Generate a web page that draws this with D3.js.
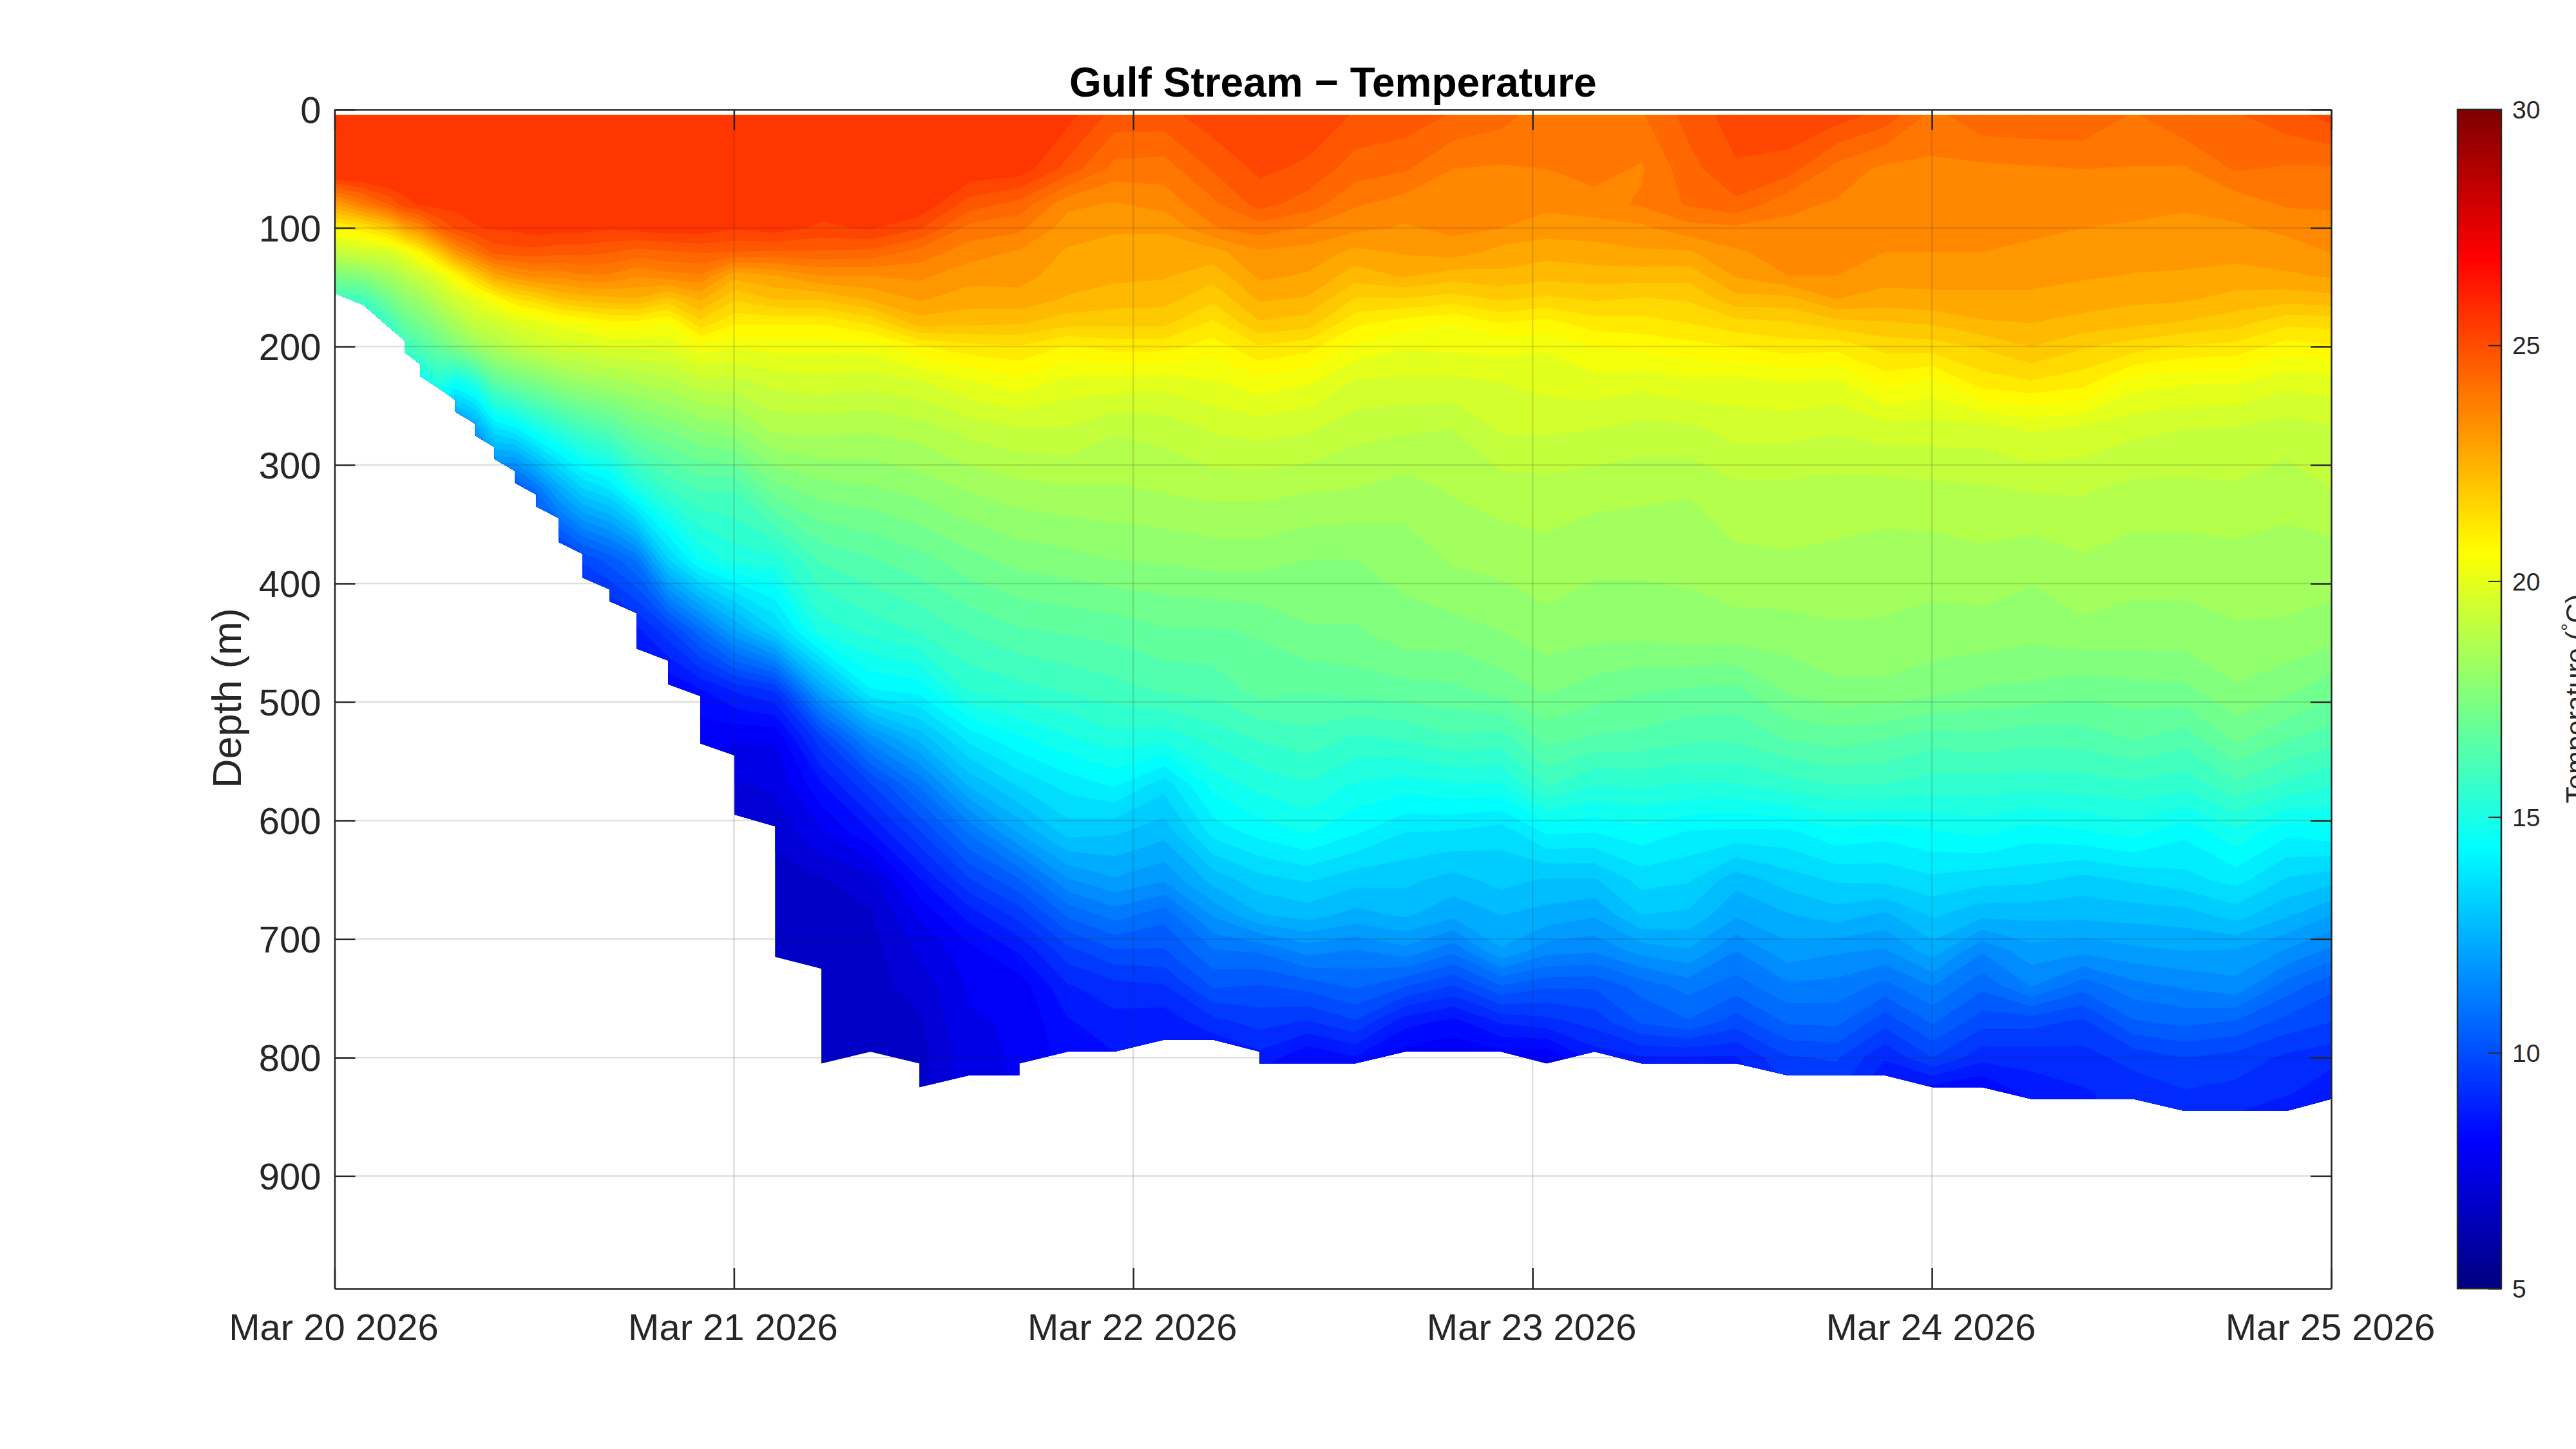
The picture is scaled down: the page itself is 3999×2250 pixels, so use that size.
<!DOCTYPE html>
<html>
<head>
<meta charset="utf-8">
<script src="https://cdn.jsdelivr.net/npm/d3@7"></script>
<style>
  html, body { margin: 0; padding: 0; background: #fff; overflow: hidden; }
  text { font-family: "Liberation Sans", Arial, sans-serif; fill: #262626; }
</style>
</head>
<body>
<div class="graph"></div>
<script>
const titleText = "Gulf Stream \u2212 Temperature";
const dayHours = [0, 24, 48, 72, 96, 120];
const dayLabels = ["Mar 20 2026", "Mar 21 2026", "Mar 22 2026", "Mar 23 2026", "Mar 24 2026", "Mar 25 2026"];
const depthTicks = [0, 100, 200, 300, 400, 500, 600, 700, 800, 900];
const barTicks = [5, 10, 15, 20, 25, 30];

// profile times, hours after Mar 20 00:00
const profileHours = [0, 1.74, 3.37, 4.22, 5.15, 6.23, 7.24, 8.44, 9.6, 10.84, 12.12, 13.47, 14.9, 16.53, 18.15, 20.05, 21.99,
  24.04, 26.48, 29.26, 32.2, 35.15, 38.13, 41.15, 44.05, 46.88, 49.86, 52.8, 55.59, 58.49, 61.35, 64.34, 67.24, 70.1,
  72.85, 75.72, 78.54, 81.37, 84.23, 87.33, 90.27, 93.17, 96.04, 99.02, 101.96, 105.1, 108.12, 111.18, 114.27, 117.33, 120];

// deepest good bin on the way into and out of each profile
const bottomIn = [155, 165, 185, 195, 215, 235, 245, 265, 285, 305, 325, 345, 375, 405, 425, 465, 495,
  545, 605, 725, 795, 805, 815, 815, 795, 795, 785, 785, 795, 805, 805, 795, 795, 795,
  805, 795, 805, 805, 805, 815, 815, 815, 825, 825, 835, 835, 835, 845, 845, 845, 835];
const bottomOut = [155, 165, 185, 205, 225, 235, 255, 275, 295, 315, 335, 365, 395, 415, 455, 485, 535,
  595, 715, 805, 795, 825, 815, 805, 795, 795, 785, 785, 805, 805, 805, 795, 795, 795,
  805, 795, 805, 805, 805, 815, 815, 815, 825, 825, 835, 835, 835, 845, 845, 845, 835];

const depthRows = [5, 50, 80, 100, 120, 140, 160, 180, 200, 230, 270, 320, 380, 440, 490, 530, 570, 610, 650, 680, 710, 740, 770, 800, 830, 850];

// temperature on depthRows, one list per profile, shallow profiles stop early
const tempProfiles = [
  [26,26.5,23.1,21,19.4,17.7,16],
  [26,26.5,24,21.4,19.7,17.9,16.2,15],
  [26,26.5,24.8,22.2,19.9,18.6,17.4,16.2,15.2],
  [26,26,25.4,23.1,20.4,19.1,18,17,16.1,15],
  [25.9,25.85,25.6,23.6,21.1,19.5,18.4,17.5,16.5,14.7],
  [25.9,25.9,25.7,24.7,22.2,20.1,19.1,18.1,17.1,15.4,13],
  [25.9,25.9,25.7,25.2,23.4,20.9,19.7,18.7,17.7,14.8,11.3],
  [25.9,25.9,25.8,25.5,24.2,22,20.2,19.4,18.3,15.4,12.2,11],
  [25.9,25.9,25.85,25.6,24.9,23,20.8,19.6,18.8,16.8,13.8,10.5],
  [25.9,25.9,25.85,25.65,25,23.4,21.5,20,19.2,17.3,14.2,10.2],
  [25.9,25.9,25.9,25.8,25,23.7,21.8,20.2,19.5,17.6,15,11.2,9.8],
  [25.9,25.9,25.9,25.7,24.9,23.7,22.3,20.5,19.7,18.1,15.6,12.5,9.3],
  [25.9,25.9,25.9,25.7,24.9,23.9,22.5,20.7,19.8,18.4,16.2,13.5,10,9],
  [25.9,25.9,25.9,25.6,24.8,23.9,22.6,21,20,18.6,16.6,14,10.5,8.6],
  [25.9,25.9,25.9,25.7,24.6,23.6,22.7,21,20,18.8,17.3,15.2,11.2,9,8.4],
  [25.9,25.9,25.9,25.8,24.7,23.8,22.2,20.7,20.1,19,17.6,16,13.5,9.8,8.3],
  [25.9,25.9,25.9,25.8,24.8,23.9,22.8,21.8,20.6,19.4,18,16.4,14.8,11,8.7,8.1,7.8],
  [25.9,25.9,25.8,25.6,24.75,22.9,22,21.2,20.4,19.4,18.2,16.4,15.3,12.3,9.2,8,7.5,7.2],
  [25.9,25.9,25.8,25.75,24.7,23.15,22.35,21.2,20.5,19.7,18.85,17.4,15.4,13.5,9.6,8,7.6,7.3,6.9,6.9,6.9],
  [25.9,25.9,25.8,25.45,24.7,23.55,22.4,21.2,20.5,19.8,18.85,17.8,16.4,15.3,12.4,9.9,8.7,7.9,7.1,7,6.9,6.9],
  [25.9,25.9,25.9,25.6,24.65,23.55,22.8,21.6,20.5,19.7,18.8,17.9,16.7,15.7,14.3,11.8,9.9,8.7,7.4,7.1,7,7,7,7],
  [25.9,25.9,25.9,25.2,24.2,23.65,23.2,22.55,21.1,19.9,18.95,18.1,17,16,14.5,12.9,11.2,9.9,8.7,8,7.6,7.3,7.1,7,7],
  [25.9,25.9,24.95,24.2,23.75,23.3,22.95,22.45,21.4,20.3,19.3,18.4,17.4,16.4,15.6,14.1,12.8,11.2,9.9,8.9,8.2,8,7.9,7.8,7.8],
  [25.8,25.8,24.6,24.05,23.5,23.3,23,22.4,21.5,20.6,19.5,18.6,17.7,16.7,15.8,14.7,13.6,12.4,10.7,9.7,8.8,8.1,8,8,8],
  [25.7,25,23.65,23.35,23.1,22.95,22.7,22.1,21.1,20.2,19.5,18.7,17.8,16.8,16,15.1,14.1,13.3,11.9,10.8,9.8,9.1,8.7,8.5,8.5],
  [25,24.2,23.5,23.2,23,22.85,22.55,22.05,21.3,20.2,19.2,18.7,17.95,16.9,16.2,15.4,14.4,13.2,12.3,11.3,10.3,9.4,9,8.7,8.7],
  [25,24.15,23.7,23.2,23,22.8,22.5,22.05,21.3,20.1,19.3,18.8,18,17.1,16.4,15.3,13.7,12.9,12,10.9,10.3,9.5,8.9,8.6,8.6],
  [25.4,24.8,24.25,23.9,23,22.5,22.05,21.45,20.95,20.3,19.6,18.9,18.1,17.1,16.5,15.7,14.9,14.1,12.9,12,11.1,10.4,9.4,8.6,8.6],
  [25.5,25.25,24.9,24.15,23.5,23.25,22.8,22.3,21.5,20.6,19.7,18.9,18.1,17.2,16.9,16,15.3,14.5,13.4,12.7,11.2,10.3,9.7,9,8.3],
  [25.5,25.05,24.55,23.9,23.4,23.1,22.7,22.15,21.3,20.4,19.6,18.8,17.95,17.5,16.8,16.2,15.5,14.8,13.6,12.9,11.7,10.5,9.5,8.4,8.1],
  [25.1,24.55,24,23.65,23.05,22.55,21.9,21.25,20.65,19.9,19.3,18.75,17.95,17.5,16.9,15.9,15.1,14.4,13.3,12.6,11.5,10.8,9.9,8.7,8.2],
  [25,24.4,23.75,23.5,23.2,22.8,21.9,20.95,20.4,19.85,19.2,18.6,18.1,17.8,17,16,14.95,13.95,13.25,12.8,11.8,10.35,8.9,8.1,8],
  [24.7,23.95,23.75,23.65,23.35,22.55,21.75,20.75,20.45,19.85,19.15,18.8,18.4,17.8,17.05,16.3,15.1,13.9,13,12.45,11.25,9.9,8.6,8,7.9],
  [24.5,23.9,23.75,23.55,23,22.65,22,21.15,20.5,19.95,19.6,18.95,18.5,17.95,17.3,16.2,15.1,13.7,13.3,12.75,12.3,10.7,9.2,8.1,8],
  [24.1,23.95,23.65,23.35,22.9,22.5,21.85,21,20.4,20.1,19.6,19,18.6,18.2,17.6,16.9,16,14.4,13.1,12.6,11.7,10.4,9.4,8,7.9],
  [24.2,24.1,23.8,23.35,23,22.55,22,21.35,20.75,20.2,19.55,18.9,18.45,18.1,17.35,16.7,15.55,14.35,13.1,12.4,11.6,10.4,9.7,8.9,8.6],
  [24.3,23.9,24,23.45,23.1,22.55,21.9,21.4,20.85,20.1,19.4,18.85,18.45,18.1,17.2,16.65,15.6,14.6,13.7,13.15,12.1,10.9,10.4,9.1,8.8],
  [24.9,24.6,24.4,23.8,23.1,22.5,22,21.55,21,20.25,19.45,18.8,18.45,18.2,17.1,16.45,15.5,14.3,13.6,13.05,12.3,11.3,10.7,9.1,8.7],
  [25.35,25.1,24.65,23.85,23.5,23.2,22.6,21.8,21.15,20.2,19.7,19.05,18.65,18.2,17.05,16.45,15.5,14.25,12.9,12.4,11.55,10.95,10.15,9.1,8.8],
  [25.5,24.95,24.05,23.85,23.7,23.55,22.6,21.9,21.35,20.35,19.7,19.05,18.7,18.2,17.6,16.8,15.75,14.25,13.35,12.7,12.2,11.45,10.8,9.9,9.5],
  [25.35,24.2,23.9,23.85,23.75,23.55,23.15,22.2,21.3,20.25,19.6,19,18.65,18.3,17.85,16.95,15.95,14.65,13.6,12.95,12,11.4,10.85,10,9.6],
  [25,23.85,23.75,23.65,23.55,23.3,23,22.3,21.7,20.9,19.75,19,18.55,18.3,17.85,16.8,15.95,14.5,13.65,12.65,11.9,11,10.1,9.2,8.6],
  [24.2,23.87,23.72,23.63,23.55,23.3,23.05,22.4,21.75,20.65,19.75,19.05,18.55,18.2,17.7,16.55,15.75,14.7,13.85,13.2,12.55,11.55,10.8,9.95,8.4],
  [24.65,23.85,23.7,23.6,23.55,23.3,23.05,22.7,22,21.35,19.75,19.1,18.65,18.2,17.5,16.65,15.75,14.85,13.7,12.85,11.6,10.85,10.1,9.3,8.2],
  [24.7,23.9,23.7,23.6,23.5,23.3,23.05,22.75,22.35,21.5,20,19.2,18.5,18.1,17.45,16.5,15.7,14.55,13.65,12.85,12.2,11.55,10.1,9.3,8.9],
  [24.7,23.95,23.75,23.55,23.35,23.2,22.95,22.6,22,21.3,19.85,19.2,18.7,18.25,17.3,16.55,15.75,14.7,13.4,12.85,12.05,10.9,9.85,9.4,9.1],
  [24.3,23.93,23.67,23.5,23.3,23.13,22.85,22.45,21.75,20.55,19.65,19.05,18.55,18.2,17.4,16.8,15.85,14.9,13.6,12.9,12.25,11.4,10.7,9.7,9.3],
  [24.7,23.9,23.6,23.45,23.3,23.1,22.8,22.3,21.5,20.4,19.55,19.05,18.55,18.2,17.45,16.55,15.7,14.45,13.8,12.95,12.35,11.6,10.85,9.95,9.5,9.3],
  [24.7,24.4,23.7,23.5,23.3,23,22.6,22.1,21.4,20.4,19.5,19.1,18.6,18.3,17.9,17.25,16.25,15.05,14.1,13.3,12.3,11.8,10.7,9.8,9.4,9.1],
  [25,24.3,24,23.65,23.35,23.1,22.5,21.65,20.95,20.1,19.35,18.95,18.55,18.3,17.65,16.8,15.85,14.45,13.5,12.8,11.9,10.95,10.2,9.45,9.2,8.7],
  [25.3,24.3,24,23.8,23.57,23.2,22.6,21.7,21.1,20.15,19.5,19.15,18.55,18.2,17.3,16.55,15.6,14.6,13.3,12.35,11.45,10.45,9.95,9.3,8.85,8.6]
];

const w = 3999;
const h = 2250;
const plotLeft = 519.5, plotRight = 3619, plotTop = 170, plotBottom = 2001;
const barLeft = 3815, barRight = 3883;
const tickLen = 32;

const xScale = d3.scaleLinear().domain([0, 120]).range([plotLeft, plotRight]);
const yScale = d3.scaleLinear().domain([0, 995]).range([plotTop, plotBottom]);
const barScale = d3.scaleLinear().domain([5, 30]).range([plotBottom, plotTop]);

// matlab jet
function jet(v) {
  const t = (v - 5) / 25;
  const c = x => Math.round(255 * Math.max(0, Math.min(1, x)));
  const r = c(Math.min(4 * t - 1.5, -4 * t + 4.5));
  const g = c(Math.min(4 * t - 0.5, -4 * t + 3.5));
  const b = c(Math.min(4 * t + 0.5, -4 * t + 2.5));
  return `rgb(${r},${g},${b})`;
}

const svg = d3.select(".graph").append("svg")
  .attr("width", w)
  .attr("height", h)
  .style("display", "block");

// fill the grid, shallow profiles keep their last value below the bottom (clip path cuts it off)
const nx = profileHours.length;
const ny = depthRows.length;
const grid = new Array(nx * ny);
tempProfiles.forEach((col, i) => {
  for (let j = 0; j < ny; j++) grid[i + j * nx] = j < col.length ? col[j] : col[col.length - 1];
});

// contour coordinates put value i at i + 0.5
const uScale = d3.scaleLinear().domain(profileHours.map((d, i) => i + 0.5)).range(profileHours.map(d => xScale(d))).clamp(true);
const vScale = d3.scaleLinear().domain(depthRows.map((d, i) => i + 0.5)).range(depthRows.map(d => yScale(d))).clamp(true);
const geo = d3.geoPath(d3.geoTransform({
  point(u, v) { this.stream.point(uScale(u), vScale(v)); }
}));

const levels = d3.range(6.35, 25.6, 0.4);
const contours = d3.contours().size([nx, ny]).thresholds(levels)(grid);

// bottom outline of the section
const outline = [[0, 0], [120, 0]];
for (let i = nx - 1; i >= 0; i--) {
  outline.push([profileHours[i], bottomOut[i]]);
  outline.push([profileHours[i], bottomIn[i]]);
}
svg.append("clipPath").attr("id", "section").append("path")
  .attr("d", d3.line().x(d => xScale(d[0])).y(d => yScale(d[1]))(outline) + "Z");

svg.append("g")
  .attr("clip-path", "url(#section)")
  .selectAll("path")
  .data(contours)
  .enter()
  .append("path")
  .attr("d", geo)
  .attr("fill", d => jet(d.value))
  .attr("stroke", d => jet(d.value))
  .attr("stroke-width", 0.6);

// grid
svg.append("g").selectAll("line").data(depthTicks.slice(1)).enter().append("line")
  .attr("x1", plotLeft).attr("x2", plotRight)
  .attr("y1", d => yScale(d)).attr("y2", d => yScale(d))
  .attr("stroke", "#262626").attr("stroke-opacity", 0.15).attr("stroke-width", 2.5);
svg.append("g").selectAll("line").data(dayHours.slice(1, -1)).enter().append("line")
  .attr("y1", plotTop).attr("y2", plotBottom)
  .attr("x1", d => xScale(d)).attr("x2", d => xScale(d))
  .attr("stroke", "#262626").attr("stroke-opacity", 0.15).attr("stroke-width", 2.5);

// axes, ticks point inwards on all four sides
const xAxis = d3.axisBottom(xScale).tickValues(dayHours).tickSizeInner(-tickLen).tickSizeOuter(0)
  .tickFormat((d, i) => dayLabels[i]);
const yAxis = d3.axisLeft(yScale).tickValues(depthTicks).tickSizeInner(-tickLen).tickSizeOuter(0);
const xAxisTop = d3.axisTop(xScale).tickValues(dayHours).tickSizeInner(-tickLen).tickSizeOuter(0).tickFormat("");
const yAxisRight = d3.axisRight(yScale).tickValues(depthTicks).tickSizeInner(-tickLen).tickSizeOuter(0).tickFormat("");

const gx = svg.append("g").attr("transform", `translate(0,${plotBottom})`).call(xAxis);
const gy = svg.append("g").attr("transform", `translate(${plotLeft},0)`).call(yAxis);
const gxt = svg.append("g").attr("transform", `translate(0,${plotTop})`).call(xAxisTop);
const gyr = svg.append("g").attr("transform", `translate(${plotRight},0)`).call(yAxisRight);
[gx, gy, gxt, gyr].forEach(g => {
  g.selectAll("line").attr("stroke", "#262626").attr("stroke-width", 2.5);
  g.selectAll(".domain").attr("stroke", "#262626").attr("stroke-width", 2.5);
  g.attr("font-family", null);
});
gx.selectAll("text").attr("y", 0).attr("dy", 0)
  .attr("transform", "translate(-2,80)")
  .attr("font-size", 58).style("fill", "#262626");
gy.selectAll("text").attr("x", -21).attr("dy", "0.35em")
  .attr("font-size", 58).style("fill", "#262626");

svg.append("text")
  .attr("transform", `translate(374,1084) rotate(-90)`)
  .attr("text-anchor", "middle")
  .attr("font-size", 63)
  .text("Depth (m)");

svg.append("text")
  .attr("x", (plotLeft + plotRight) / 2)
  .attr("y", 150)
  .attr("text-anchor", "middle")
  .attr("font-size", 64)
  .attr("font-weight", "bold")
  .style("fill", "#000")
  .text(titleText);

// colorbar
const barSteps = d3.range(256);
svg.append("g").selectAll("rect").data(barSteps).enter().append("rect")
  .attr("x", barLeft)
  .attr("width", barRight - barLeft)
  .attr("y", d => barScale(5 + 25 * (d + 1) / 256))
  .attr("height", (plotBottom - plotTop) / 256 + 1)
  .attr("fill", d => jet(5 + 25 * (d + 0.5) / 256));

const barAxis = d3.axisRight(barScale).tickValues(barTicks).tickSizeInner(-20).tickSizeOuter(0);
const gb = svg.append("g").attr("transform", `translate(${barRight},0)`).call(barAxis);
gb.attr("font-family", null);
gb.selectAll("line").attr("stroke", "#262626").attr("stroke-width", 2);
gb.selectAll(".domain").remove();
gb.selectAll("text").attr("x", 17).attr("dy", "0.35em")
  .attr("font-size", 39).style("fill", "#262626");
svg.append("rect")
  .attr("x", barLeft).attr("y", plotTop)
  .attr("width", barRight - barLeft).attr("height", plotBottom - plotTop)
  .attr("fill", "none").attr("stroke", "#262626").attr("stroke-width", 2.5);

const barLabel = svg.append("text")
  .attr("transform", `translate(4013,1085) rotate(-90)`)
  .attr("text-anchor", "middle")
  .attr("font-size", 43);
barLabel.append("tspan").text("Temperature (");
barLabel.append("tspan").attr("font-size", 30).attr("dy", -16).text("\u00b0");
barLabel.append("tspan").attr("dy", 16).text("C)");
</script>
</body>
</html>
